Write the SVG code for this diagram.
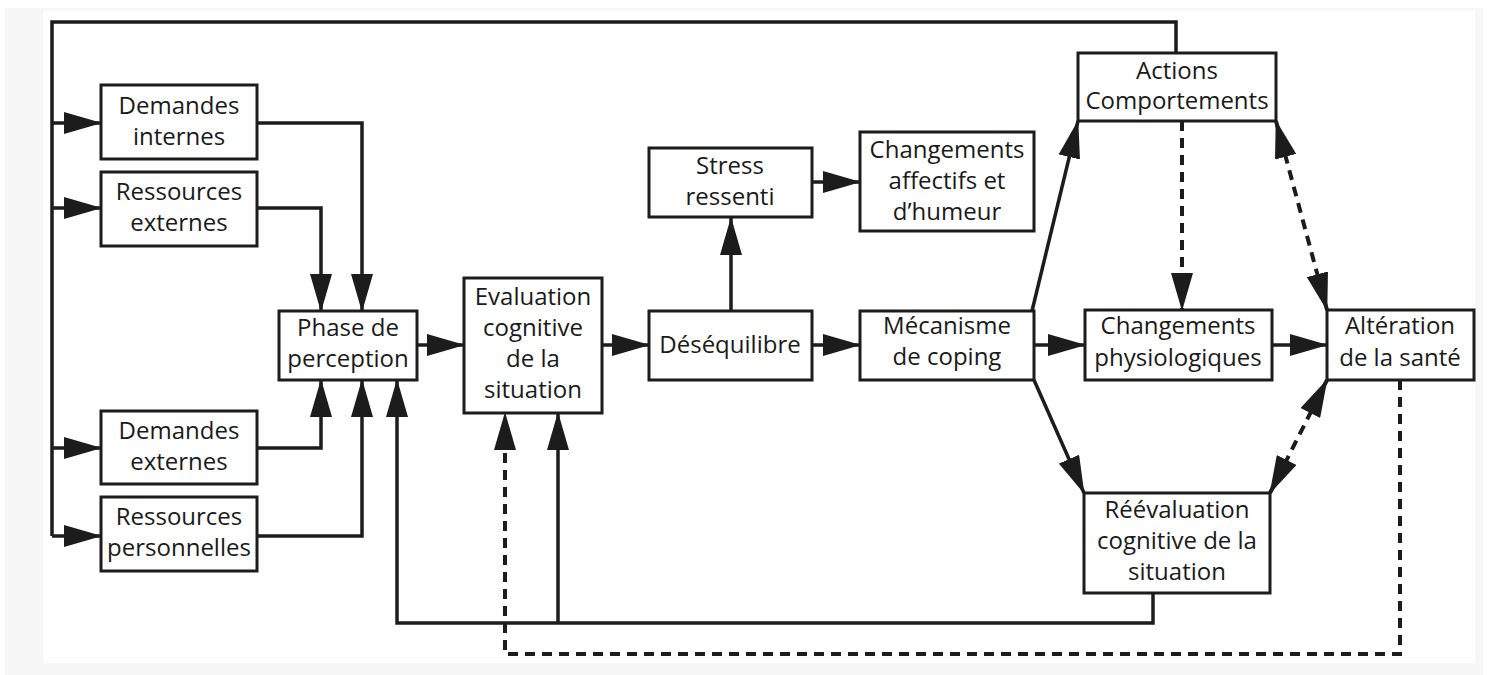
<svg xmlns="http://www.w3.org/2000/svg" width="1488" height="675" viewBox="0 0 1488 675">
<style>
.box{fill:#fff;stroke:#1c1c1c;stroke-width:3}
.t{font-family:"Open Sans","Liberation Sans",sans-serif;font-size:24px;fill:#1a1a1a;text-anchor:middle}
.ln{fill:none;stroke:#1c1c1c;stroke-width:3.5}
.ds{fill:none;stroke:#1c1c1c;stroke-width:4;stroke-dasharray:10 7}
</style>
<defs>
<marker id="ah" markerUnits="userSpaceOnUse" viewBox="0 0 38 22" markerWidth="38" markerHeight="22" refX="37" refY="11" orient="auto-start-reverse">
<path d="M0,0 L38,11 L0,22 z" fill="#1c1c1c"/>
</marker>
</defs>
<rect x="0" y="0" width="1488" height="675" fill="#fff"/>
<rect x="5" y="8" width="1478" height="667" fill="#f7f7f7"/>
<rect x="43" y="11" width="1432" height="652" fill="#fff"/>

<g id="connectors">
<path class="ln" d="M1176,53 V22 H52 V536"/>
<path class="ln" d="M52,123 H101" marker-end="url(#ah)"/>
<path class="ln" d="M52,208 H101" marker-end="url(#ah)"/>
<path class="ln" d="M52,448 H101" marker-end="url(#ah)"/>
<path class="ln" d="M52,536 H101" marker-end="url(#ah)"/>
<path class="ln" d="M257,123 H362 V311" marker-end="url(#ah)"/>
<path class="ln" d="M257,208 H321 V311" marker-end="url(#ah)"/>
<path class="ln" d="M257,448 H321 V380" marker-end="url(#ah)"/>
<path class="ln" d="M257,536 H362 V380" marker-end="url(#ah)"/>
<path class="ln" d="M417,345 H464" marker-end="url(#ah)"/>
<path class="ln" d="M602,345 H649" marker-end="url(#ah)"/>
<path class="ln" d="M731,311 V218" marker-end="url(#ah)"/>
<path class="ln" d="M812,182 H860" marker-end="url(#ah)"/>
<path class="ln" d="M812,345 H860" marker-end="url(#ah)"/>
<path class="ln" d="M1034,345 H1085" marker-end="url(#ah)"/>
<path class="ln" d="M1272,345 H1327" marker-end="url(#ah)"/>
<path class="ln" d="M1032,311 L1078,121" marker-end="url(#ah)"/>
<path class="ln" d="M1034,380 L1084,493" marker-end="url(#ah)"/>
<path class="ds" d="M1182,121 V310" marker-end="url(#ah)"/>
<path class="ds" d="M1276,121 L1327,310" marker-start="url(#ah)" marker-end="url(#ah)"/>
<path class="ds" d="M1327,380 L1270,493" marker-start="url(#ah)" marker-end="url(#ah)"/>
<path class="ds" d="M1400,380 V654 H505 V413" marker-end="url(#ah)"/>
<path class="ln" d="M1153,593 V623 H397 V380" marker-end="url(#ah)"/>
<path class="ln" d="M558,623 V413" marker-end="url(#ah)"/>
</g>

<g id="demandes-internes"><rect class="box" x="101" y="85" width="156" height="74"/>
<text class="t" x="179" y="114">Demandes</text><text class="t" x="179" y="145">internes</text></g>
<g id="ressources-externes"><rect class="box" x="101" y="172" width="156" height="74"/>
<text class="t" x="179" y="200">Ressources</text><text class="t" x="179" y="231">externes</text></g>
<g id="demandes-externes"><rect class="box" x="101" y="411" width="156" height="73"/>
<text class="t" x="179" y="439">Demandes</text><text class="t" x="179" y="470">externes</text></g>
<g id="ressources-personnelles"><rect class="box" x="101" y="497" width="156" height="74"/>
<text class="t" x="179" y="525">Ressources</text><text class="t" x="179" y="556">personnelles</text></g>
<g id="phase-perception"><rect class="box" x="279" y="311" width="138" height="69"/>
<text class="t" x="348" y="336">Phase de</text><text class="t" x="348" y="367">perception</text></g>
<g id="evaluation"><rect class="box" x="464" y="278" width="138" height="135"/>
<text class="t" x="533" y="305">Evaluation</text><text class="t" x="533" y="336">cognitive</text><text class="t" x="533" y="367">de la</text><text class="t" x="533" y="398">situation</text></g>
<g id="desequilibre"><rect class="box" x="649" y="311" width="163" height="69"/>
<text class="t" x="730" y="353">Déséquilibre</text></g>
<g id="stress-ressenti"><rect class="box" x="649" y="148" width="163" height="69"/>
<text class="t" x="730" y="174">Stress</text><text class="t" x="730" y="205">ressenti</text></g>
<g id="changements-affectifs"><rect class="box" x="860" y="132" width="174" height="99"/>
<text class="t" x="947" y="158">Changements</text><text class="t" x="947" y="189">affectifs et</text><text class="t" x="947" y="220">d’humeur</text></g>
<g id="mecanisme-coping"><rect class="box" x="860" y="311" width="174" height="69"/>
<text class="t" x="947" y="334">Mécanisme</text><text class="t" x="947" y="365">de coping</text></g>
<g id="actions"><rect class="box" x="1078" y="53" width="198" height="68"/>
<text class="t" x="1177" y="79">Actions</text><text class="t" x="1177" y="109">Comportements</text></g>
<g id="changements-physiologiques"><rect class="box" x="1085" y="310" width="187" height="70"/>
<text class="t" x="1178" y="334">Changements</text><text class="t" x="1178" y="366">physiologiques</text></g>
<g id="alteration-sante"><rect class="box" x="1327" y="310" width="147" height="70"/>
<text class="t" x="1400" y="334">Altération</text><text class="t" x="1400" y="366">de la santé</text></g>
<g id="reevaluation"><rect class="box" x="1084" y="493" width="186" height="100"/>
<text class="t" x="1177" y="518">Réévaluation</text><text class="t" x="1177" y="549">cognitive de la</text><text class="t" x="1177" y="580">situation</text></g>
</svg>
